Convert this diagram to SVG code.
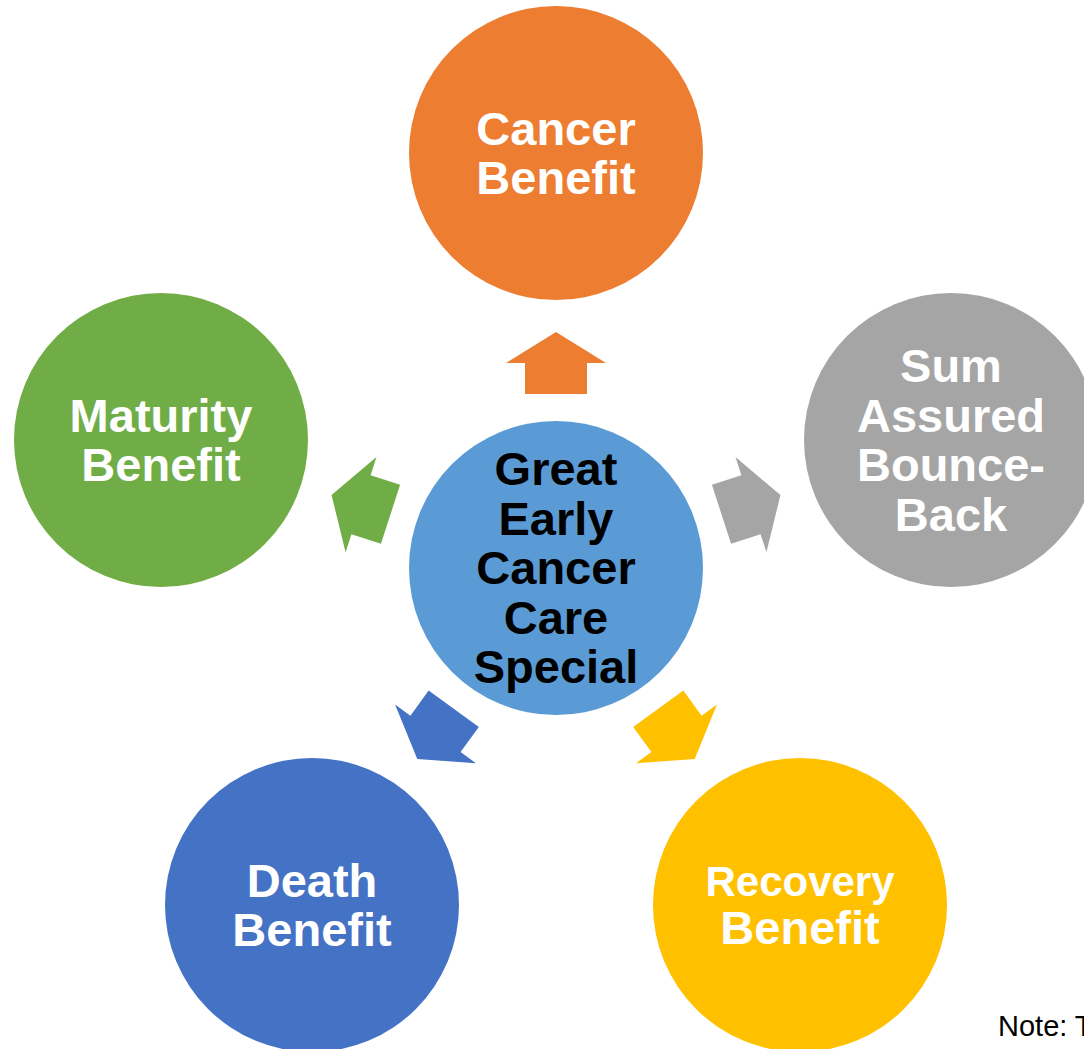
<svg xmlns="http://www.w3.org/2000/svg" width="1084" height="1049" viewBox="0 0 1084 1049">
<style>
.t{font-family:"Liberation Sans",Arial,sans-serif;font-weight:bold;font-size:47px;text-anchor:middle;fill:#fff}
.dk{fill:#000}
.note{font-family:"Liberation Sans",Arial,sans-serif;font-size:29px;fill:#000}
</style>
<defs>
<polygon id="arr" points="556,332 606,363 587,363 587,394 525,394 525,363 506,363"/>
</defs>
<rect width="1084" height="1049" fill="#fff"/>
<g id="connectors">
<use href="#arr" fill="#ED7D31"/>
<use href="#arr" fill="#A5A5A5" transform="rotate(72 556 568)"/>
<use href="#arr" fill="#FFC000" transform="rotate(144 556 568)"/>
<use href="#arr" fill="#4472C4" transform="rotate(216 556 568)"/>
<use href="#arr" fill="#70AD47" transform="rotate(288 556 568)"/>
</g>
<g id="center">
<circle cx="556" cy="568" r="147" fill="#5B9BD5"/>
<text class="t dk" x="556" y="485">Great</text>
<text class="t dk" x="556" y="534.5">Early</text>
<text class="t dk" x="556" y="584">Cancer</text>
<text class="t dk" x="556" y="633.5">Care</text>
<text class="t dk" x="556" y="683">Special</text>
</g>
<g id="cancer">
<circle cx="556" cy="153" r="147" fill="#ED7D31"/>
<text class="t" x="556" y="144.5">Cancer</text>
<text class="t" x="556" y="194">Benefit</text>
</g>
<g id="sum">
<circle cx="951" cy="440" r="147" fill="#A5A5A5"/>
<text class="t" x="951" y="382">Sum</text>
<text class="t" x="951" y="431.5">Assured</text>
<text class="t" x="951" y="481">Bounce-</text>
<text class="t" x="951" y="530.5">Back</text>
</g>
<g id="recovery">
<circle cx="800" cy="905" r="147" fill="#FFC000"/>
<text class="t" x="800" y="896" style="font-size:42px">Recovery</text>
<text class="t" x="800" y="944">Benefit</text>
</g>
<g id="death">
<circle cx="312" cy="905" r="147" fill="#4472C4"/>
<text class="t" x="312" y="896.5">Death</text>
<text class="t" x="312" y="946">Benefit</text>
</g>
<g id="maturity">
<circle cx="161" cy="440" r="147" fill="#70AD47"/>
<text class="t" x="161" y="431.5">Maturity</text>
<text class="t" x="161" y="481">Benefit</text>
</g>
<text class="note" x="998" y="1036">Note: T</text>
</svg>
